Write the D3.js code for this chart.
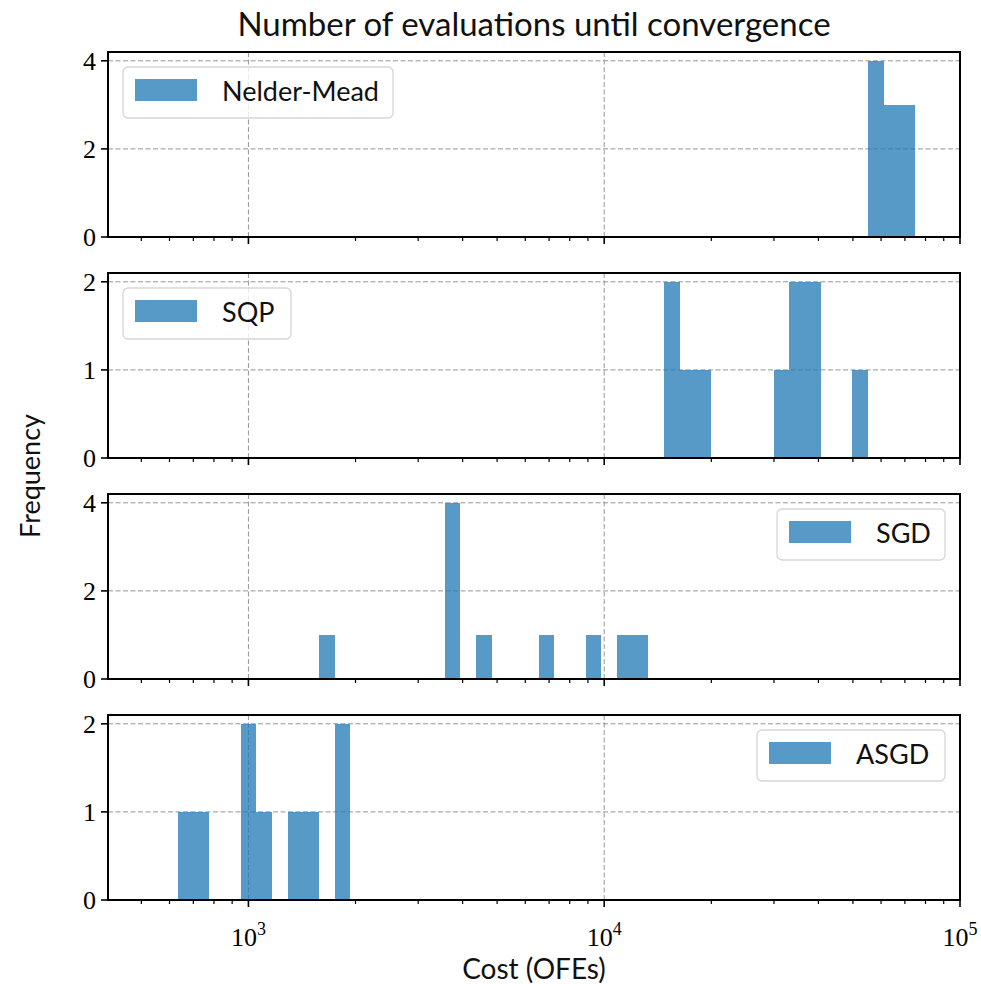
<!DOCTYPE html>
<html>
<head>
<meta charset="utf-8">
<script src="https://cdn.jsdelivr.net/npm/d3@7/dist/d3.min.js"></script>
<style>
  html, body { margin: 0; padding: 0; background: #ffffff; }
  svg { display: block; }
</style>
</head>
<body>
<div id="chart"></div>
<script>
// Cost (objective function evaluations) needed by each optimiser to converge
const methods = ["Nelder-Mead", "SQP", "SGD", "ASGD"];
const neldermead = [55500, 56800, 58000, 59500, 62000, 63500, 65500, 68500, 71000, 74700];
const sqp = [15100, 15600, 17000, 18800, 31300, 34000, 35500, 37500, 39000, 51800];
const sgd = [1650, 3650, 3720, 3800, 3870, 4550, 6850, 9300, 11400, 12600];
const asgd = [634, 740, 985, 1010, 1100, 1350, 1500, 1790, 1850];
const series = [neldermead, sqp, sgd, asgd];
const legendSide = ["left", "left", "right", "right"];
const yTicks = [[0, 2, 4], [0, 1, 2], [0, 2, 4], [0, 1, 2]];
const xMajorTicks = [1e3, 1e4, 1e5];
const nBins = 47;

const W = 981, H = 984;
const left = 108, right = 960;
const panelTop = 52, panelH = 185, panelGap = 36;

const svg = d3.select("#chart").append("svg")
  .attr("width", W).attr("height", H);

const x = d3.scaleLog().domain([403, 1e5]).range([left, right]);

// shared logarithmic bins spanning all observations
const all = series.flat();
const lmin = Math.log10(d3.min(all)), lmax = Math.log10(d3.max(all));
const edges = d3.range(nBins + 1).map(i => Math.pow(10, lmin + (lmax - lmin) * i / nBins));
function histogram(vals) {
  const counts = new Array(nBins).fill(0);
  vals.forEach(v => {
    let i = d3.bisectRight(edges, v) - 1;
    i = Math.max(0, Math.min(nBins - 1, i));
    counts[i] += 1;
  });
  return counts.map((c, i) => ({ x0: edges[i], x1: edges[i + 1], n: c }));
}

// minor ticks on the log axis
const minorTicks = [];
[100, 1000, 10000].forEach(dec => {
  for (let m = 2; m <= 9; m++) {
    const v = m * dec;
    if (v >= 403 && v <= 1e5) minorTicks.push(v);
  }
});

const serif = "'Liberation Serif', 'DejaVu Serif', serif";
const sans = "Lato, 'Noto Sans', sans-serif";

series.forEach((vals, p) => {
  const top = panelTop + p * (panelH + panelGap);
  const bottom = top + panelH;
  const bins = histogram(vals);
  const ymax = d3.max(bins, b => b.n);
  const y = d3.scaleLinear().domain([0, ymax * 1.05]).range([bottom, top]);
  const g = svg.append("g");

  // grid
  const grid = g.append("g").attr("stroke", "#8a8a8a").attr("stroke-width", 0.9)
    .attr("stroke-dasharray", "5,2.5");
  xMajorTicks.filter(t => x(t) < right - 1).forEach(t => {
    grid.append("line").attr("x1", x(t)).attr("x2", x(t)).attr("y1", top).attr("y2", bottom);
  });
  yTicks[p].filter(t => t > 0).forEach(t => {
    grid.append("line").attr("x1", left).attr("x2", right).attr("y1", y(t)).attr("y2", y(t));
  });

  // bars
  g.append("g").attr("shape-rendering", "crispEdges")
    .selectAll("rect").data(bins.filter(b => b.n > 0)).join("rect")
    .attr("x", d => x(d.x0))
    .attr("width", d => x(d.x1) - x(d.x0))
    .attr("y", d => y(d.n))
    .attr("height", d => y(0) - y(d.n))
    .attr("fill", "#1f77b4")
    .attr("fill-opacity", 0.75);

  // x ticks
  const tk = g.append("g").attr("stroke", "#000");
  xMajorTicks.forEach(t => {
    tk.append("line").attr("x1", x(t)).attr("x2", x(t))
      .attr("y1", bottom).attr("y2", bottom + 7).attr("stroke-width", 1.6);
  });
  minorTicks.forEach(t => {
    tk.append("line").attr("x1", x(t)).attr("x2", x(t))
      .attr("y1", bottom).attr("y2", bottom + 4).attr("stroke-width", 1.2);
  });
  // y ticks
  yTicks[p].forEach(t => {
    tk.append("line").attr("x1", left - 7).attr("x2", left)
      .attr("y1", y(t)).attr("y2", y(t)).attr("stroke-width", 1.6);
    g.append("text").attr("x", left - 12).attr("y", y(t) + 9)
      .attr("text-anchor", "end").attr("font-family", serif).attr("font-size", 26)
      .text(t);
  });

  // frame
  g.append("rect").attr("x", left).attr("y", top).attr("width", right - left).attr("height", panelH)
    .attr("fill", "none").attr("stroke", "#000").attr("stroke-width", 2);

  // legend
  const lw = p === 0 ? 270 : (p === 1 ? 168 : (p === 2 ? 168 : 188));
  const lh = 51;
  const lx = legendSide[p] === "left" ? left + 15 : right - 15 - lw;
  const ly = top + 15;
  const lg = g.append("g");
  lg.append("rect").attr("x", lx).attr("y", ly).attr("width", lw).attr("height", lh)
    .attr("rx", 5).attr("fill", "#ffffff").attr("fill-opacity", 0.8)
    .attr("stroke", "#d6d6d6").attr("stroke-width", 1.3);
  lg.append("rect").attr("x", lx + 12).attr("y", ly + 12).attr("width", 62).attr("height", 22)
    .attr("fill", "#1f77b4").attr("fill-opacity", 0.75);
  lg.append("text").attr("x", lx + 99).attr("y", ly + 34)
    .attr("font-family", sans).attr("font-size", 27).attr("fill", "#111")
    .text(methods[p]);

  // x tick labels only under the last panel
  if (p === series.length - 1) {
    xMajorTicks.forEach(t => {
      const e = Math.round(Math.log10(t));
      const txt = g.append("text").attr("x", x(t)).attr("y", bottom + 46)
        .attr("text-anchor", "middle").attr("font-family", serif).attr("font-size", 26);
      txt.append("tspan").text("10");
      txt.append("tspan").attr("dy", -11).attr("font-size", 18).text(e);
    });
    svg.append("text").attr("x", (left + right) / 2).attr("y", bottom + 79)
      .attr("text-anchor", "middle").attr("font-family", sans).attr("font-size", 28)
      .attr("fill", "#111").text("Cost (OFEs)");
  }
});

// title and shared y label
svg.append("text").attr("x", (left + right) / 2).attr("y", 36)
  .attr("text-anchor", "middle").attr("font-family", sans).attr("font-size", 33)
  .attr("fill", "#111").text("Number of evaluations until convergence");
svg.append("text")
  .attr("transform", `translate(40, ${(panelTop + panelTop + 4 * panelH + 3 * panelGap) / 2}) rotate(-90)`)
  .attr("text-anchor", "middle").attr("font-family", sans).attr("font-size", 27)
  .attr("fill", "#111").text("Frequency");
</script>
</body>
</html>
